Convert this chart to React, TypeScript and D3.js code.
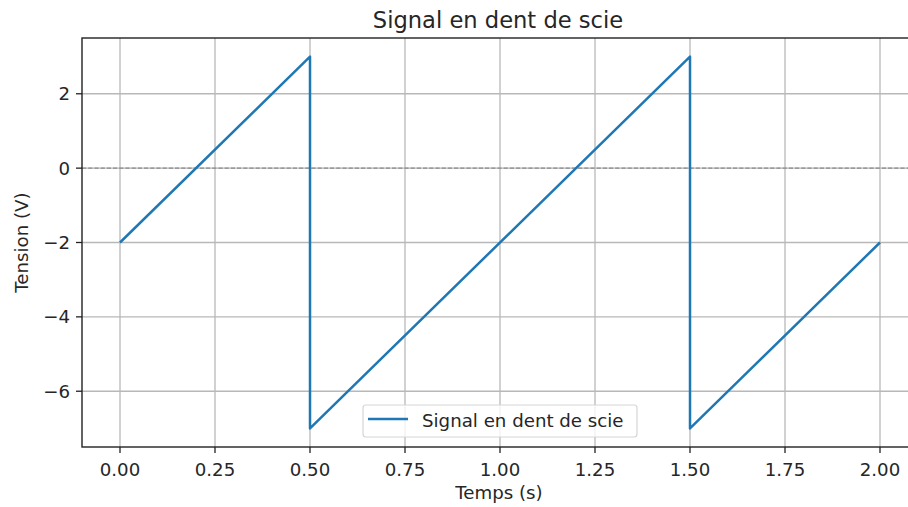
import React from "react";
import * as d3 from "d3";

const times = [0, 0.5, 0.5, 1.5, 1.5, 2.0];
const voltages = [-2, 3, -7, 3, -7, -2];
const xTicks = [0, 0.25, 0.5, 0.75, 1.0, 1.25, 1.5, 1.75, 2.0];
const yTicks = [-6, -4, -2, 0, 2];
const title = "Signal en dent de scie";
const xLabel = "Temps (s)";
const yLabel = "Tension (V)";
const seriesName = "Signal en dent de scie";

const W = 908;
const H = 507;
const m = { left: 82, right: 918, top: 38, bottom: 447 };
const font = "'DejaVu Sans', sans-serif";
const lineColor = "#1f77b4";
const fs = 18.2;

export default function App() {
  const x = d3.scaleLinear().domain([-0.1, 2.1]).range([m.left, m.right]);
  const y = d3.scaleLinear().domain([-7.5, 3.5]).range([m.bottom, m.top]);
  const pts: [number, number][] = times.map((t, i) => [t, voltages[i]]);
  const line = d3
    .line<[number, number]>()
    .x((d) => x(d[0]))
    .y((d) => y(d[1]));

  const legX = 363;
  const legY = 405;
  const legW = 274;
  const legH = 32;

  return (
    <svg
      width={W}
      height={H}
      style={{ position: "absolute", left: 0, top: 0, background: "#fff" }}
      fontFamily={font}
      fill="#262626"
    >
      <defs>
        <clipPath id="plot">
          <rect x={m.left} y={m.top} width={m.right - m.left} height={m.bottom - m.top} />
        </clipPath>
      </defs>
      <rect x={0} y={0} width={W} height={H} fill="#fff" />
      {/* grid */}
      <g stroke="#b8b8b8" strokeWidth={1.3}>
        {xTicks.map((t) => (
          <line key={"gx" + t} x1={x(t)} x2={x(t)} y1={m.top} y2={m.bottom} />
        ))}
        {yTicks.map((t) => (
          <line key={"gy" + t} x1={m.left} x2={m.right} y1={y(t)} y2={y(t)} />
        ))}
      </g>
      {/* zero reference line */}
      <line
        x1={m.left}
        x2={m.right}
        y1={y(0)}
        y2={y(0)}
        stroke="#8a8a8a"
        strokeWidth={1.2}
        strokeDasharray="4.2,2"
      />
      {/* series */}
      <path
        d={line(pts) || ""}
        fill="none"
        stroke={lineColor}
        strokeWidth={2.5}
        strokeLinejoin="round"
        clipPath="url(#plot)"
      />
      {/* spines */}
      <rect
        x={m.left}
        y={m.top}
        width={m.right - m.left}
        height={m.bottom - m.top}
        fill="none"
        stroke="#222"
        strokeWidth={1.4}
      />
      {/* ticks */}
      <g fontSize={fs}>
        {xTicks.map((t) => (
          <g key={"xt" + t}>
            <line x1={x(t)} x2={x(t)} y1={m.bottom} y2={m.bottom + 6} stroke="#222" strokeWidth={1.3} />
            <text x={x(t)} y={476} textAnchor="middle">
              {d3.format(".2f")(t)}
            </text>
          </g>
        ))}
        {yTicks.map((t) => (
          <g key={"yt" + t}>
            <line x1={m.left - 6} x2={m.left} y1={y(t)} y2={y(t)} stroke="#222" strokeWidth={1.3} />
            <text x={m.left - 12} y={y(t)} dy="0.36em" textAnchor="end">
              {t < 0 ? "\u2212" + Math.abs(t) : String(t)}
            </text>
          </g>
        ))}
      </g>
      {/* axis labels */}
      <text x={499} y={499} textAnchor="middle" fontSize={fs}>
        {xLabel}
      </text>
      <text
        transform={`translate(28, ${(m.top + m.bottom) / 2}) rotate(-90)`}
        textAnchor="middle"
        fontSize={fs}
      >
        {yLabel}
      </text>
      {/* title */}
      <text x={498} y={28} textAnchor="middle" fontSize={22.6}>
        {title}
      </text>
      {/* legend */}
      <g>
        <rect
          x={legX}
          y={legY}
          width={legW}
          height={legH}
          rx={3}
          fill="#fff"
          fillOpacity={0.8}
          stroke="#d6d6d6"
          strokeWidth={1.2}
        />
        <line x1={legX + 5} x2={legX + 45} y1={legY + 14} y2={legY + 14} stroke={lineColor} strokeWidth={2.5} />
        <text x={legX + 59} y={legY + 15} dy="0.36em" fontSize={fs}>
          {seriesName}
        </text>
      </g>
    </svg>
  );
}
